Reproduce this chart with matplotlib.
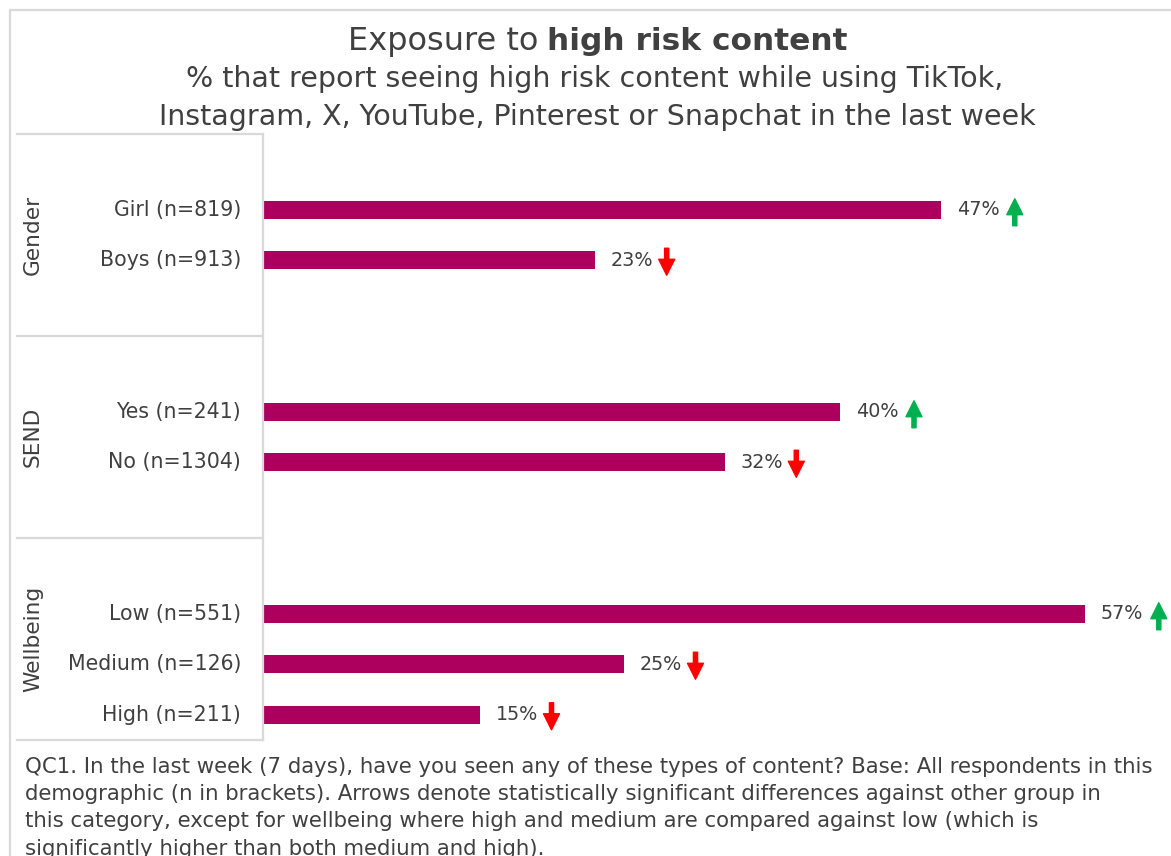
import numpy as np
import matplotlib
matplotlib.use('Agg')
import matplotlib.pyplot as plt
from matplotlib.lines import Line2D

plt.rcParams['font.family'] = ['DejaVu Sans']

# ============ 数据 ============
groups = ['Gender', 'SEND', 'Wellbeing']
labels = [
    ['Girl (n=819)', 'Boys (n=913)'],
    ['Yes (n=241)', 'No (n=1304)'],
    ['Low (n=551)', 'Medium (n=126)', 'High (n=211)'],
]
values = [
    [47, 23],
    [40, 32],
    [57, 25, 15],
]
# 显著性箭头: 1 = 高于, -1 = 低于
signif = [
    [1, -1],
    [1, -1],
    [1, -1, -1],
]
footnote = [
    'QC1. In the last week (7 days), have you seen any of these types of content? Base: All respondents in this',
    'demographic (n in brackets). Arrows denote statistically significant differences against other group in',
    'this category, except for wellbeing where high and medium are compared against low (which is',
    'significantly higher than both medium and high).',
]

BAR = '#AD005E'
TXT = '#404040'
GRID = '#D9D9D9'
UP = '#00B050'
DOWN = '#FF0000'

W, H = 1171, 856
SLOTS_PER_GROUP = 4


def fx(x):
    return x / W


def fy(y):
    return 1 - y / H


fig = plt.figure(figsize=(W / 100, H / 100), dpi=100)

# 外框
fig.add_artist(Line2D([fx(10), fx(10), fx(W)], [fy(H), fy(10), fy(10)],
                      color=GRID, lw=1.6, transform=fig.transFigure))

# 标题（普通 + 加粗）
renderer = fig.canvas.get_renderer()
t1 = fig.text(0, fy(50), 'Exposure to', fontsize=23, color=TXT, va='baseline')
t2 = fig.text(0, fy(50), 'high risk content', fontsize=22.5, color=TXT,
              fontweight='bold', va='baseline')
w1 = t1.get_window_extent(renderer).width
w2 = t2.get_window_extent(renderer).width
gap = 9
x0 = 598 - (w1 + gap + w2) / 2
t1.set_x(fx(x0))
t2.set_x(fx(x0 + w1 + gap))

fig.text(fx(595), fy(87), '% that report seeing high risk content while using TikTok,',
         fontsize=20.5, color=TXT, ha='center', va='baseline')
fig.text(fx(597), fy(125), 'Instagram, X, YouTube, Pinterest or Snapchat in the last week',
         fontsize=20.5, color=TXT, ha='center', va='baseline')

# 条形图区域
top_px, bot_px, left_px = 134, 740, 264
ax = fig.add_axes([fx(left_px), fy(bot_px), 1 - fx(left_px), (bot_px - top_px) / H])
px_per_pct = 14.4
ax.set_xlim(0, (W - left_px) / px_per_pct)

n_slots = SLOTS_PER_GROUP * len(groups)
ax.set_ylim(n_slots, 0)
slot_px = (bot_px - top_px) / n_slots

bounds = [top_px]
for gi, (g, labs, vals, sig) in enumerate(zip(groups, labels, values, signif)):
    start = gi * SLOTS_PER_GROUP
    for k, (lab, v, s) in enumerate(zip(labs, vals, sig)):
        y = start + 1 + k + 0.5
        ax.barh(y, v, height=0.36, color=BAR)
        ax.text(v + 1.1, y, f'{v}%', fontsize=13.8, color=TXT, va='center', ha='left')
        if s > 0:
            ax_x = v + 74 / px_per_pct
            tip, tail = y - 11 / slot_px, y + 16 / slot_px
            col = UP
        else:
            ax_x = v + 71.5 / px_per_pct
            tip, tail = y + 15 / slot_px, y - 12 / slot_px
            col = DOWN
        ax.annotate('', xy=(ax_x, tip), xytext=(ax_x, tail),
                    arrowprops=dict(arrowstyle='simple,head_length=0.5,head_width=0.5,tail_width=0.13',
                                    color=col, shrinkA=0, shrinkB=0, mutation_scale=23),
                    annotation_clip=False)
        # 类别标签
        fig.text(fx(241), fy(top_px + y * slot_px), lab, fontsize=14.8, color=TXT,
                 ha='right', va='center')
    mid = start + SLOTS_PER_GROUP / 2
    fig.text(fx(33), fy(top_px + mid * slot_px), g, fontsize=15.6, color=TXT,
             rotation=90, ha='center', va='center')
    bounds.append(top_px + (start + SLOTS_PER_GROUP) * slot_px)

ax.axis('off')

# 左侧分组表格线
for b in bounds:
    fig.add_artist(Line2D([fx(17), fx(263)], [fy(b), fy(b)], color=GRID, lw=1.6,
                          transform=fig.transFigure))
fig.add_artist(Line2D([fx(263), fx(263)], [fy(top_px), fy(bot_px)], color=GRID, lw=1.6,
                      transform=fig.transFigure))

# 注释
for i, line in enumerate(footnote):
    fig.text(fx(25), fy(773 + i * 27.2), line, fontsize=15.35, color=TXT,
             ha='left', va='baseline')

fig.savefig('out.png', dpi=100)
